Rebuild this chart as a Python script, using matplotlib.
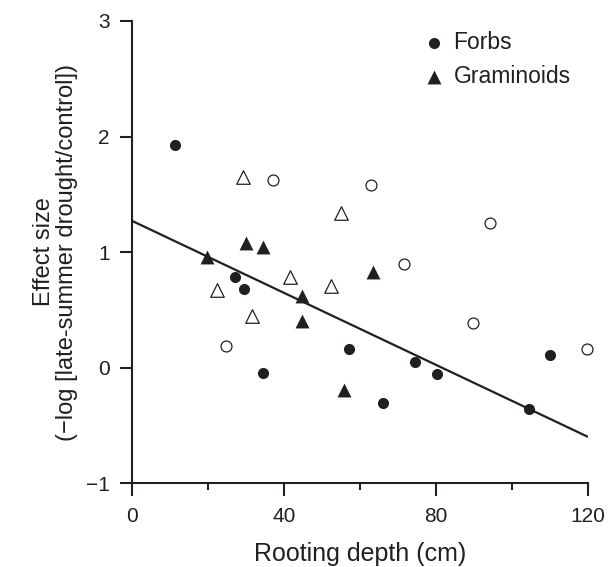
import matplotlib

matplotlib.use("Agg")
import matplotlib.pyplot as plt

plt.rcParams["font.family"] = ["Liberation Sans", "DejaVu Sans"]

INK = "#231f20"

# filled symbols = forbs / graminoids (legend), open symbols = same groups, second set
forb_x = [11.3, 27.1, 29.5, 34.5, 57.1, 66.1, 74.5, 80.3, 104.5, 110.0]
forb_y = [1.93, 0.78, 0.68, -0.05, 0.16, -0.31, 0.05, -0.06, -0.36, 0.11]
gram_x = [19.7, 30.0, 34.5, 44.7, 44.7, 55.8, 63.4]
gram_y = [0.96, 1.08, 1.04, 0.62, 0.40, -0.19, 0.83]
forb_open_x = [24.7, 37.1, 62.9, 71.6, 89.7, 94.2, 119.7]
forb_open_y = [0.19, 1.62, 1.58, 0.90, 0.39, 1.25, 0.16]
gram_open_x = [22.4, 29.2, 31.6, 41.6, 52.4, 55.0]
gram_open_y = [0.67, 1.65, 0.45, 0.78, 0.71, 1.34]

# regression line
fit_x = [0, 120]
fit_y = [1.27, -0.60]

fig = plt.figure(figsize=(6.08, 5.67), dpi=100)
ax = fig.add_axes([0.2171, 0.148, 0.75, 0.815])

ax.plot(fit_x, fit_y, color=INK, lw=1.6, zorder=1, solid_capstyle="butt")
ax.scatter(forb_x, forb_y, s=64, marker="o", color=INK, linewidths=0,
           label="Forbs", zorder=3, clip_on=False)
ax.scatter(gram_x, gram_y, s=100, marker="^", color=INK, linewidths=0,
           label="Graminoids", zorder=3, clip_on=False)
ax.scatter(forb_open_x, forb_open_y, s=62, marker="o", facecolors="white",
           edgecolors=INK, linewidths=0.9, zorder=3, clip_on=False)
ax.scatter(gram_open_x, gram_open_y, s=95, marker="^", facecolors="white",
           edgecolors=INK, linewidths=0.9, zorder=3, clip_on=False)

ax.set_xlim(0, 120)
ax.set_ylim(-1, 3)
ax.set_xticks([0, 40, 80, 120])
ax.set_xticks([20, 60, 100], minor=True)
ax.set_yticks([-1, 0, 1, 2, 3])
ax.set_yticklabels(["\u22121", "0", "1", "2", "3"])
for side in ("top", "right"):
    ax.spines[side].set_visible(False)
for side in ("left", "bottom"):
    ax.spines[side].set_linewidth(1.5)
    ax.spines[side].set_color(INK)
ax.tick_params(which="major", direction="out", length=9, width=1.5,
               labelsize=15, colors=INK)
ax.tick_params(which="minor", direction="out", length=5, width=1.5, colors=INK)
ax.tick_params(axis="x", which="major", pad=8)
ax.tick_params(axis="y", which="major", pad=7)

ax.set_xlabel("Rooting depth (cm)", fontsize=18, color=INK, labelpad=12)
ax.set_ylabel("Effect size\n(\u2212log [late-summer drought/control])", fontsize=17,
              color=INK, labelpad=6, linespacing=1.05)

ax.legend(loc="upper left", bbox_to_anchor=(0.592, 1.022), frameon=False, fontsize=16.5,
          handlelength=1.0, handletextpad=0.35, labelspacing=0.45, borderpad=0.4,
          scatterpoints=1, labelcolor=INK)

fig.savefig("out.png", dpi=100, facecolor="white")
